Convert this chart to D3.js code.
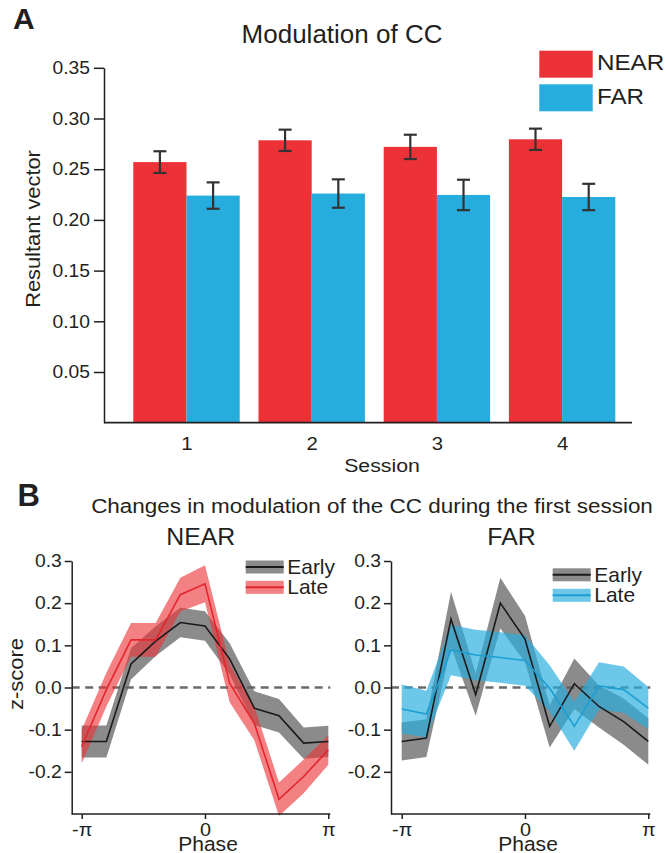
<!DOCTYPE html>
<html><head><meta charset="utf-8">
<script src="https://cdn.jsdelivr.net/npm/d3@7"></script>
<style>
body{margin:0;background:#fff}
svg text{font-family:"Liberation Sans",Arial,Helvetica,sans-serif;fill:#231f20}
</style>
</head><body>
<svg id="c" width="668" height="853"></svg>
<script>
// ---------- Panel A data ----------
const sessions = [1, 2, 3, 4];
const groups = ["NEAR", "FAR"];
const nearMean = [0.257, 0.2785, 0.272, 0.2795];
const nearErr  = [0.0107, 0.0105, 0.012, 0.0105];
const farMean  = [0.224, 0.226, 0.2246, 0.2226];
const farErr   = [0.013, 0.014, 0.015, 0.013];
const yTicksA  = [0.05, 0.10, 0.15, 0.20, 0.25, 0.30, 0.35];

// ---------- Panel B data ----------
const phaseBins = [-5, -4, -3, -2, -1, 0, 1, 2, 3, 4, 5].map(k => k * Math.PI / 5);
const nearEarly   = [-0.128, -0.128, 0.056, 0.110, 0.154, 0.146, 0.068, -0.049, -0.067, -0.132, -0.128];
const nearEarlySE = [0.038, 0.038, 0.037, 0.035, 0.035, 0.035, 0.037, 0.040, 0.040, 0.037, 0.037];
const nearLate    = [-0.140, -0.005, 0.113, 0.113, 0.220, 0.246, 0.010, -0.085, -0.265, -0.211, -0.148];
const nearLateSE  = [0.040, 0.040, 0.040, 0.040, 0.040, 0.044, 0.045, 0.040, 0.040, 0.040, 0.035];
const farEarly    = [-0.128, -0.120, 0.162, -0.017, 0.200, 0.115, -0.092, 0.009, -0.045, -0.081, -0.128];
const farEarlySE  = [0.045, 0.045, 0.065, 0.050, 0.060, 0.055, 0.050, 0.060, 0.050, 0.055, 0.055];
const farLate     = [-0.051, -0.063, 0.089, 0.077, 0.071, 0.064, -0.002, -0.092, 0.004, -0.005, -0.049];
const farLateSE   = [0.058, 0.055, 0.060, 0.060, 0.060, 0.060, 0.055, 0.058, 0.056, 0.055, 0.050];
const yTicksB = [-0.2, -0.1, 0.0, 0.1, 0.2, 0.3];
const xTicksB = [-Math.PI, 0, Math.PI];
const xTickLabelsB = ["-π", "0", "π"];

// ---------- style ----------
const RED = "#EC3237", BLUE = "#27ADDD", INK = "#231f20";
const svg = d3.select("#c");

function txt(g, x, y, s, o) {
  o = o || {};
  const sx = o.sx || 1;
  return g.append("text")
    .attr("transform", `translate(${x},${y})` + (o.rot ? ` rotate(${o.rot})` : "") + ` scale(${sx},1)`)
    .attr("text-anchor", o.anchor || "start")
    .style("font-size", o.size + "px")
    .style("font-weight", o.weight || "normal")
    .text(s);
}
function styleAxis(g, size, sx) {
  g.selectAll("path.domain").attr("stroke", INK).attr("stroke-width", 1.5);
  g.selectAll(".tick line").attr("stroke", INK).attr("stroke-width", 1.5);
  g.selectAll(".tick text").style("font-size", size + "px").attr("fill", INK)
    .style("font-family", '"Liberation Sans",Arial,sans-serif')
    .attr("transform", `scale(${sx},1)`)
    .attr("x", function () { const v = this.getAttribute("x"); return v === null ? null : +v / sx; });
}

// ================= Panel A =================
const yA = d3.scaleLinear().domain([0, 0.35]).range([422.7, 67.8]);
const xA = d3.scaleBand().domain(sessions).range([123.9, 624.7]).paddingInner(0.15).paddingOuter(0.075);
const xSub = d3.scaleBand().domain(groups).range([0, xA.bandwidth()]);
const gA = svg.append("g");

txt(gA, 13, 28.5, "A", { size: 30, weight: "bold" });
txt(gA, 342, 42.7, "Modulation of CC", { size: 26, anchor: "middle" });

const barData = [];
sessions.forEach((s, i) => {
  barData.push({ s, g: "NEAR", v: nearMean[i], e: nearErr[i], c: RED });
  barData.push({ s, g: "FAR", v: farMean[i], e: farErr[i], c: BLUE });
});
gA.selectAll("rect.bar").data(barData).join("rect").attr("class", "bar")
  .attr("x", d => xA(d.s) + xSub(d.g)).attr("width", xSub.bandwidth())
  .attr("y", d => yA(d.v)).attr("height", d => yA(0) - yA(d.v)).attr("fill", d => d.c);

const capW = 13;
const eb = gA.selectAll("g.eb").data(barData).join("g").attr("class", "eb")
  .attr("stroke", "#333").attr("stroke-width", 2.2);
eb.append("line").attr("x1", d => xA(d.s) + xSub(d.g) + xSub.bandwidth() / 2)
  .attr("x2", d => xA(d.s) + xSub(d.g) + xSub.bandwidth() / 2)
  .attr("y1", d => yA(d.v + d.e)).attr("y2", d => yA(d.v - d.e));
eb.append("line").attr("x1", d => xA(d.s) + xSub(d.g) + xSub.bandwidth() / 2 - capW / 2)
  .attr("x2", d => xA(d.s) + xSub(d.g) + xSub.bandwidth() / 2 + capW / 2)
  .attr("y1", d => yA(d.v + d.e)).attr("y2", d => yA(d.v + d.e));
eb.append("line").attr("x1", d => xA(d.s) + xSub(d.g) + xSub.bandwidth() / 2 - capW / 2)
  .attr("x2", d => xA(d.s) + xSub(d.g) + xSub.bandwidth() / 2 + capW / 2)
  .attr("y1", d => yA(d.v - d.e)).attr("y2", d => yA(d.v - d.e));

// axes A
const axAy = gA.append("g").attr("transform", "translate(104,0)")
  .call(d3.axisLeft(yA).tickValues(yTicksA).tickSize(10).tickSizeOuter(0).tickPadding(4).tickFormat(d3.format(".2f")));
styleAxis(axAy, 18, 1.07);
gA.append("line").attr("x1", 104).attr("x2", 632).attr("y1", yA(0)).attr("y2", yA(0))
  .attr("stroke", INK).attr("stroke-width", 1.8);
const axAx = gA.append("g").attr("transform", `translate(0,${yA(0)})`)
  .call(d3.axisBottom(d3.scalePoint().domain(sessions).range([xA(1) + xA.bandwidth() / 2, xA(4) + xA.bandwidth() / 2]))
    .tickSize(0).tickPadding(14));
axAx.select("path.domain").remove();
styleAxis(axAx, 19, 1.07);
txt(gA, 382, 471.7, "Session", { size: 19, anchor: "middle", sx: 1.12 });
txt(gA, 40, 229, "Resultant vector", { size: 19.5, anchor: "middle", rot: -90, sx: 1.12 });

// legend A
const legA = gA.append("g");
[["NEAR", RED], ["FAR", BLUE]].forEach((d, i) => {
  legA.append("rect").attr("x", 539.3).attr("y", 50.7 + i * 33.6).attr("width", 53.4).attr("height", 27).attr("fill", d[1]);
  txt(legA, 597, 69.6 + i * 34.8, d[0], { size: 22, sx: 1.1 });
});

// ================= Panel B =================
const gB = svg.append("g");
txt(gB, 17.5, 506, "B", { size: 31, weight: "bold" });
txt(gB, 372, 513.3, "Changes in modulation of the CC during the first session", { size: 21, anchor: "middle", sx: 1.07 });

const yB = d3.scaleLinear().domain([-0.3, 0.3]).range([814, 561]);
const fmtB = v => d3.format(".1f")(v).replace("\u2212", "-");

function phasePanel(cfg) {
  const g = gB.append("g");
  const xB = d3.scaleLinear().domain([-Math.PI, Math.PI]).range([cfg.x0, cfg.x1]);
  txt(g, cfg.titleX, 545, cfg.title, { size: 23, anchor: "middle", sx: 1.08 });

  // zero line
  g.append("line").attr("x1", cfg.axisX).attr("x2", cfg.x1 + 2).attr("y1", yB(0)).attr("y2", yB(0))
    .attr("stroke", "#6a6a6a").attr("stroke-width", 2.6).attr("stroke-dasharray", "8,5.5");

  const area = d3.area().x((d, i) => xB(phaseBins[i])).y0(d => yB(d[0] - d[1])).y1(d => yB(d[0] + d[1]));
  const line = d3.line().x((d, i) => xB(phaseBins[i])).y(d => yB(d));

  g.append("path").datum(cfg.early.map((v, i) => [v, cfg.earlySE[i]])).attr("d", area)
    .attr("fill", "#5e5e5e").attr("fill-opacity", 0.72);
  g.append("path").datum(cfg.late.map((v, i) => [v, cfg.lateSE[i]])).attr("d", area)
    .attr("fill", cfg.color).attr("fill-opacity", cfg.bandOpacity);
  g.append("path").datum(cfg.early).attr("d", line).attr("fill", "none").attr("stroke", "#1a1a1a").attr("stroke-width", 1.6);
  g.append("path").datum(cfg.late).attr("d", line).attr("fill", "none").attr("stroke", cfg.lineColor).attr("stroke-width", 1.6);

  // axes
  const ay = g.append("g").attr("transform", `translate(${cfg.axisX},0)`)
    .call(d3.axisLeft(yB).tickValues(yTicksB).tickSize(7).tickSizeOuter(0).tickPadding(3).tickFormat(fmtB));
  styleAxis(ay, 18, 1.07);
  g.append("line").attr("x1", cfg.axisX).attr("x2", cfg.x1 + 2).attr("y1", yB(-0.3)).attr("y2", yB(-0.3))
    .attr("stroke", INK).attr("stroke-width", 1.5);
  const ax = g.append("g").attr("transform", `translate(0,${yB(-0.3)})`)
    .call(d3.axisBottom(xB).tickValues(xTicksB).tickSize(5).tickPadding(4)
      .tickFormat((d, i) => xTickLabelsB[i]));
  ax.select("path.domain").remove();
  styleAxis(ax, 18.5, 1.07);
  txt(g, cfg.phaseX, 851, "Phase", { size: 19.5, anchor: "middle", sx: 1.08 });

  // legend
  const L = cfg.leg;
  [["Early", "#5e5e5e", 0.72, "#1a1a1a"], ["Late", cfg.color, cfg.bandOpacity, cfg.lineColor]].forEach((d, i) => {
    const y = L.y + i * L.dy;
    g.append("rect").attr("x", L.x).attr("y", y).attr("width", 38).attr("height", 13)
      .attr("fill", d[1]).attr("fill-opacity", d[2]);
    g.append("line").attr("x1", L.x).attr("x2", L.x + 38).attr("y1", y + 6.5).attr("y2", y + 6.5)
      .attr("stroke", d[3]).attr("stroke-width", 2);
    txt(g, L.x + 41.5, y + 13.5, d[0], { size: 20, sx: 1.05 });
  });
}

phasePanel({
  title: "NEAR", titleX: 200.7, x0: 81.7, x1: 328.3, axisX: 71.7, phaseX: 208,
  early: nearEarly, earlySE: nearEarlySE, late: nearLate, lateSE: nearLateSE,
  color: RED, lineColor: "#E3262D", bandOpacity: 0.62,
  leg: { x: 245.7, y: 560.5, dy: 20.3 }
});
phasePanel({
  title: "FAR", titleX: 511.5, x0: 401.7, x1: 648.3, axisX: 391, phaseX: 528,
  early: farEarly, earlySE: farEarlySE, late: farLate, lateSE: farLateSE,
  color: BLUE, lineColor: "#1D9FD3", bandOpacity: 0.68,
  leg: { x: 552.7, y: 568.3, dy: 20.5 }
});
txt(gB, 23, 674, "z-score", { size: 21, anchor: "middle", rot: -90, sx: 1.05 });
</script>
</body></html>
